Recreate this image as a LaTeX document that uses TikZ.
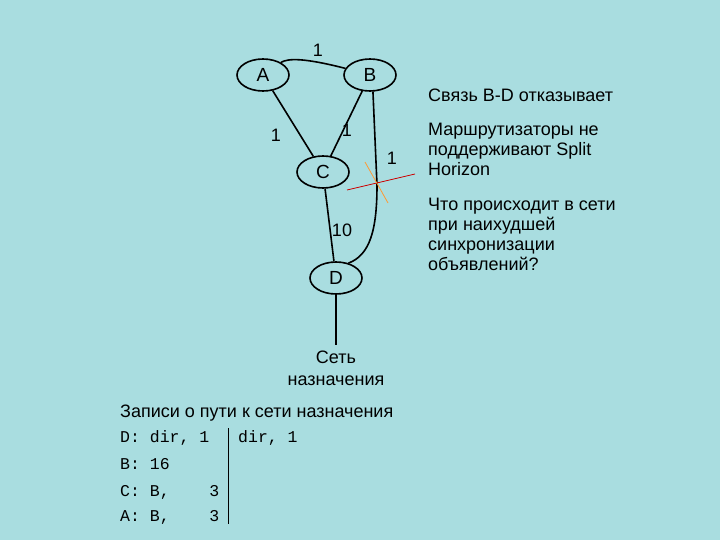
\documentclass[tikz,border=0pt]{standalone}
\usepackage{fontspec}
\setmainfont{Liberation Sans}
\setmonofont{Liberation Mono}
\usetikzlibrary{shapes.geometric}
\definecolor{bg}{HTML}{A9DDE0}
\tikzset{rt/.style={ellipse,draw,line width=1.6pt,minimum width=52pt,minimum height=32pt,inner sep=0pt,font=\fontsize{19}{20}\selectfont},
ed/.style={line width=1.6pt},
lb/.style={font=\fontsize{18}{20}\selectfont,inner sep=0pt},
tx/.style={font=\fontsize{18}{20}\selectfont,align=left,anchor=north west,inner sep=0pt},
mo/.style={font=\ttfamily\fontsize{16.5}{20}\selectfont,anchor=base west,inner sep=0pt}}
\begin{document}
\begin{tikzpicture}[x=1pt,y=-1pt]
\fill[bg] (0,0) rectangle (720,540);
\useasboundingbox (0,0) rectangle (720,540);
\node[rt] (A) at (263,75) {A};
\node[rt] (B) at (370,75) {B};
\node[rt] (C) at (323,172) {C};
\node[rt] (D) at (336,278) {D};
\coordinate (E) at (336,345);
\draw[ed] (A.35) .. controls (288,58) and (305,58) .. (B.165);
\draw[ed] (A) -- (C);
\draw[ed] (B) -- (C);
\draw[ed] (C) -- (D);
\draw[ed] (D) -- (E);
\draw[ed] (B.280) -- (377,185) .. controls (377,230) and (370,255) .. (D.50);
\draw[red!80!black,line width=0.8pt] (347,190) -- (415,174);
\draw[orange!80,line width=0.8pt] (365,162) -- (388,203);
\node[lb] (l1) at (318,50) {1};
\node[lb] (l2) at (276,135) {1};
\node[lb] (l3) at (347,130) {1};
\node[lb] (l4) at (392,158) {1};
\node[lb] (l5) at (342,230) {10};
\node[font=\fontsize{18}{22}\selectfont,align=center,inner sep=0pt] (net) at (336,368) {Сеть\\назначения};
\node[tx] (t1) at (428,89) {Связь B-D отказывает};
\node[tx] (t2) at (428,123) {Маршрутизаторы не\\поддерживают Split\\Horizon};
\node[tx] (t3) at (428,198) {Что происходит в сети\\при наихудшей\\синхронизации\\объявлений?};
\node[tx] (th) at (120,405) {Записи о пути к сети назначения};
\node[mo] (r1) at (120,442) {D: dir, 1};
\node[mo] (r1b) at (238,442) {dir, 1};
\node[mo] (r2) at (120,469) {B: 16};
\node[mo] (r3) at (120,496) {C: B,~~~~3};
\node[mo] (r4) at (120,521) {A: B,~~~~3};
\coordinate (v1) at (228,428);
\coordinate (v2) at (228,524);
\draw[line width=1pt] (v1) -- (v2);
\end{tikzpicture}
\end{document}
